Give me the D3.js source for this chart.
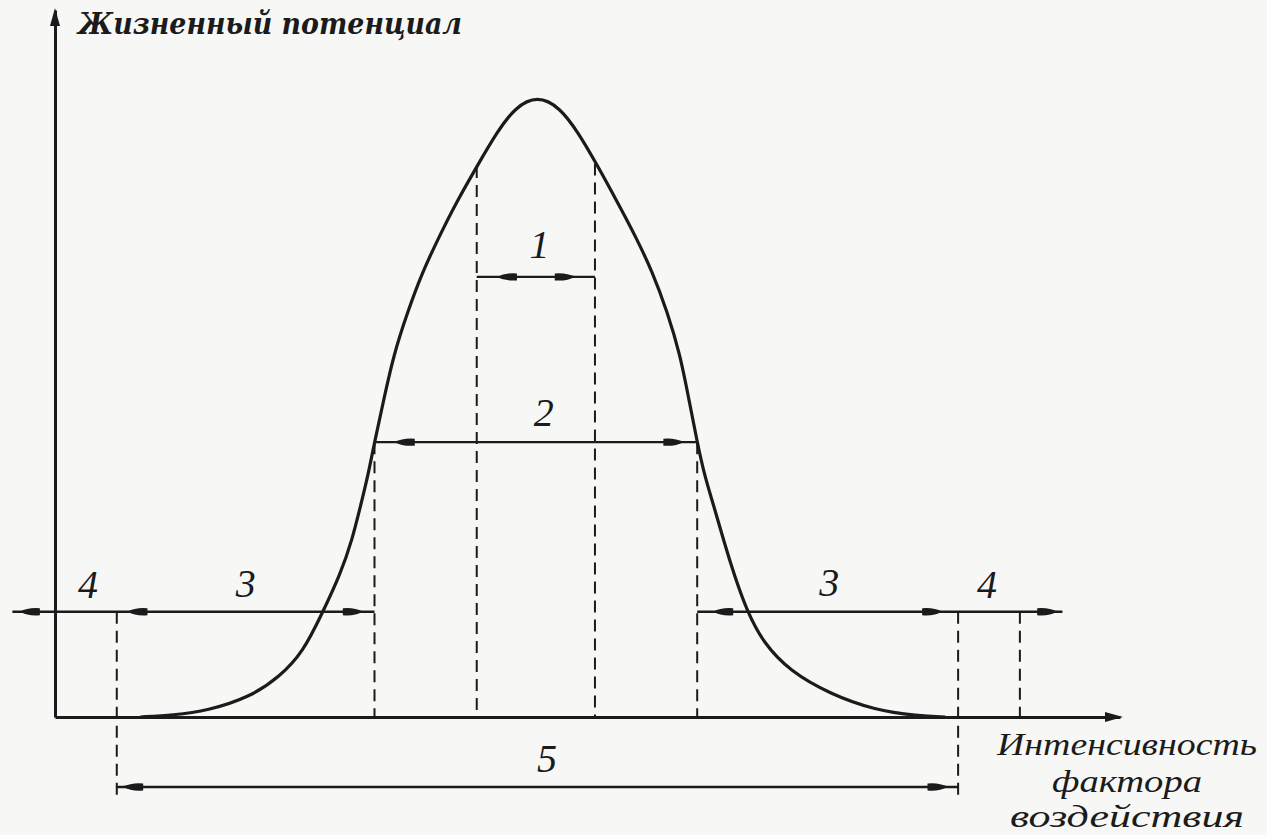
<!DOCTYPE html>
<html>
<head>
<meta charset="utf-8">
<script src="https://cdn.jsdelivr.net/npm/d3@7"></script>
<style>
  html, body { margin: 0; padding: 0; background: #f7f7f5; }
  svg { display: block; }
</style>
</head>
<body>
<svg id="chart" width="1267" height="835"></svg>
<script>
// ---------- Data (intensity of factor vs. life potential, arbitrary units 0..100) ----------
const intensity = [8.0, 11.1, 14.3, 18.3, 21.1, 23.3, 25.1, 26.8, 27.9, 28.7,
                   29.4, 30.0, 30.9, 31.8, 33.1, 34.5, 36.1, 37.7, 39.7, 41.5,
                   43.2, 45.3,
                   47.4, 49.1, 50.9, 52.8, 54.5, 56.1, 57.5, 58.7, 59.5, 60.3,
                   61.0, 61.9, 62.8, 63.8, 65.0, 66.5, 69.0, 72.8, 77.0, 81.0,
                   83.6];
const potential = [0, 0.3, 1.0, 3.2, 6.5, 10.5, 16.8, 23.1, 28.6, 34.2,
                   39.1, 44.4, 51.5, 58.5, 65.4, 71.9, 77.7, 83.2, 89.2, 94.5,
                   98.5, 100.4,
                   98.5, 94.5, 89.2, 83.2, 77.7, 71.9, 65.4, 58.5, 51.5, 44.4,
                   38.9, 33.9, 28.4, 22.8, 17.0, 12.0, 7.4, 3.7, 1.1, 0.2,
                   0];

// zone ranges (horizontal dimension lines)
const zoneStart = [39.6, 30.0, -4.0, 60.3, 5.8];
const zoneEnd   = [50.7, 60.3, 30.0, 94.6, 84.8];
const zoneLevel = [71.1, 44.4, 17.0, 17.0, -11.3];

// arrow heads on the dimension lines
const arrowTip   = [41.5, 48.8, 31.9, 59.0, -3.3, 6.8, 28.9, 61.8, 83.3, 94.1, 6.4, 83.8];
const arrowLevel = [71.1, 71.1, 44.4, 44.4, 17.0, 17.0, 17.0, 17.0, 17.0, 17.0, -11.3, -11.3];
const arrowDir   = [-1, 1, -1, 1, -1, -1, 1, -1, 1, 1, -1, 1];

// dashed boundary lines
const boundX      = [39.6, 50.7, 30.0, 60.3, 5.8, 84.8, 90.6];
const boundTop    = [89.0, 89.4, 44.4, 44.4, 17.0, 17.0, 17.0];
const boundBottom = [0, 0, 0, 0, -12.9, -12.9, 0];

// zone labels
const zoneLabels = ["1", "2", "3", "4", "3", "4", "5"];
const labelX     = [45.5, 45.9, 17.9, 3.1, 72.7, 87.5, 46.2];
const labelY     = [74.2, 47.0, 19.4, 19.2, 19.5, 19.2, -8.9];

// axis titles
const yTitle = "Жизненный потенциал";
const xTitleLines = ["Интенсивность", "фактора", "воздействия"];

// ---------- Drawing ----------
const svg = d3.select("#chart");
const ink = "#1b1b1b";

const x = d3.scaleLinear().domain([0, 100]).range([55, 1120]);
const y = d3.scaleLinear().domain([0, 100]).range([717, 98]);

// axes (no ticks, just the lines) drawn with d3 axis generators
const xAxisScale = x.copy();
const yAxisScale = y.copy().domain([0, 114.2]).range([717, y(114.2)]);

const gx = svg.append("g").attr("transform", `translate(0,${y(0)})`)
  .call(d3.axisBottom(xAxisScale).tickValues([]).tickSizeOuter(0));
const gy = svg.append("g").attr("transform", `translate(${x(0)},0)`)
  .call(d3.axisLeft(yAxisScale).tickValues([]).tickSizeOuter(0));
[gx, gy].forEach(g => g.select(".domain").attr("stroke", ink).attr("stroke-width", 3));

// axis arrowheads
const yTop = yAxisScale(114.2);
svg.append("path")
  .attr("d", `M${x(0)},${yTop - 2} L${x(0) - 5},${yTop + 16} L${x(0) + 5},${yTop + 16} Z`)
  .attr("fill", ink);
const xEnd = xAxisScale(100);
svg.append("path")
  .attr("d", `M${xEnd + 3},${y(0)} L${xEnd - 15},${y(0) - 5} L${xEnd - 15},${y(0) + 5} Z`)
  .attr("fill", ink);

// dashed boundaries
svg.append("g").selectAll("line").data(boundX).join("line")
  .attr("x1", d => x(d)).attr("x2", d => x(d))
  .attr("y1", (d, i) => y(boundTop[i])).attr("y2", (d, i) => y(boundBottom[i]))
  .attr("stroke", ink).attr("stroke-width", 2)
  .attr("stroke-dasharray", "12,7");

// dimension lines
svg.append("g").selectAll("line").data(zoneStart).join("line")
  .attr("x1", d => x(d)).attr("x2", (d, i) => x(zoneEnd[i]))
  .attr("y1", (d, i) => y(zoneLevel[i])).attr("y2", (d, i) => y(zoneLevel[i]))
  .attr("stroke", ink).attr("stroke-width", 2.4);

// arrow heads
svg.append("g").selectAll("path").data(arrowTip).join("path")
  .attr("d", (d, i) => {
    const tx = x(d), ty = y(arrowLevel[i]), dir = arrowDir[i];
    const bx = tx - dir * 20;
    return `M${tx},${ty} Q${tx - dir * 8},${ty - 4.5} ${bx},${ty - 3.5} L${bx},${ty + 3.5} Q${tx - dir * 8},${ty + 4.5} ${tx},${ty} Z`;
  })
  .attr("fill", ink);

// bell curve
const line = d3.line()
  .x(d => x(d[0])).y(d => y(d[1]))
  .curve(d3.curveBasis);
svg.append("path")
  .datum(intensity.map((v, i) => [v, potential[i]]))
  .attr("d", line)
  .attr("fill", "none")
  .attr("stroke", ink)
  .attr("stroke-width", 3.2)
  .attr("stroke-linejoin", "round");

// zone labels
svg.append("g").selectAll("text").data(zoneLabels).join("text")
  .attr("x", (d, i) => x(labelX[i])).attr("y", (d, i) => y(labelY[i]))
  .attr("text-anchor", "middle")
  .attr("font-family", "'Liberation Serif', 'DejaVu Serif', serif")
  .attr("font-style", "italic")
  .attr("font-size", 40)
  .attr("fill", ink)
  .text(d => d);

// y axis title
svg.append("text")
  .attr("x", x(0) + 23).attr("y", 34)
  .attr("font-family", "'DejaVu Serif', 'Liberation Serif', serif")
  .attr("font-style", "italic").attr("font-weight", "bold")
  .attr("font-size", 30)
  .attr("textLength", 384).attr("lengthAdjust", "spacingAndGlyphs")
  .attr("fill", ink)
  .text(yTitle);

// x axis title (three lines)
const xTitleBase = [755, 792, 827];
const xTitleLen = [260, 150, 234];
svg.append("g").selectAll("text").data(xTitleLines).join("text")
  .attr("x", 1127).attr("y", (d, i) => xTitleBase[i])
  .attr("text-anchor", "middle")
  .attr("font-family", "'Liberation Serif', 'DejaVu Serif', serif")
  .attr("font-style", "italic")
  .attr("font-size", 32)
  .attr("textLength", (d, i) => xTitleLen[i]).attr("lengthAdjust", "spacingAndGlyphs")
  .attr("fill", ink)
  .text(d => d);
</script>
</body>
</html>
